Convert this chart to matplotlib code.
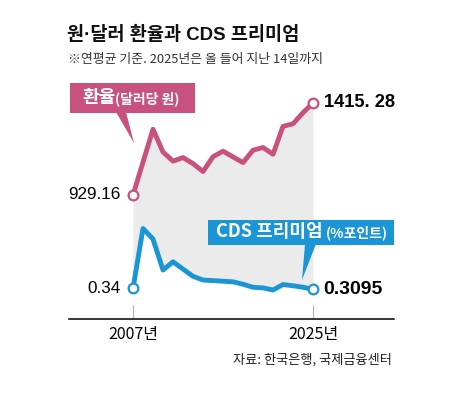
import matplotlib
matplotlib.use("Agg")
import matplotlib.pyplot as plt
from matplotlib import font_manager as fm
from matplotlib.patches import Rectangle, Polygon

years = list(range(2007, 2026))
krw_usd = [929.16, 1102.6, 1276.4, 1156.3, 1108.1, 1126.9, 1095.0, 1053.2, 1131.5,
           1160.5, 1130.5, 1100.3, 1165.7, 1180.1, 1144.4, 1291.9, 1305.4, 1364.0, 1415.28]
cds = [0.34, 2.32, 1.97, 0.95, 1.22, 0.98, 0.74, 0.62, 0.60,
       0.58, 0.56, 0.48, 0.38, 0.36, 0.29, 0.47, 0.43, 0.38, 0.3095]
xticks = [2007, 2025]
xtick_labels = ["2007년", "2025년"]

KR = "Noto Sans CJK KR"
try:
    fm.findfont(fm.FontProperties(family="Liberation Sans Narrow"), fallback_to_default=False)
    NUM = "Liberation Sans Narrow"
    nscale = 1.0
except Exception:
    NUM = "Liberation Sans"
    nscale = 0.82

PINK = "#c8527d"
BLUE = "#1a95d5"
W, H = 461, 400

fig = plt.figure(figsize=(W / 100, H / 100), dpi=100)
fig.patch.set_facecolor("white")


def fx(px):
    return px / W


def fy(py):
    return 1 - py / H


ax = fig.add_axes([fx(69), fy(319), fx(394) - fx(69), fy(80) - fy(319)])
ax2 = ax.twinx()

lo1, hi1 = 273.9, 1536.8
lo2, hi2 = -0.667, 7.22
ax.set_xlim(2000.6, 2033.1)
ax.set_ylim(lo1, hi1)
ax2.set_ylim(lo2, hi2)

# grey band between the two lines, blue mapped onto the won scale
cds_on_won = [lo1 + (c - lo2) / (hi2 - lo2) * (hi1 - lo1) for c in cds]
ax.fill_between(years, krw_usd, cds_on_won, color="#ebebeb", lw=0, zorder=0)

ax.plot(years, krw_usd, color=PINK, lw=3.5, solid_joinstyle="round",
        marker="o", markevery=[0, -1], ms=7, mfc="white", mec=PINK, mew=1.6, zorder=3)
ax2.plot(years, cds, color=BLUE, lw=3.5, solid_joinstyle="round",
         marker="o", markevery=[0, -1], ms=7, mfc="white", mec=BLUE, mew=1.6, zorder=3)

for a in (ax, ax2):
    for s in ("top", "right", "left"):
        a.spines[s].set_visible(False)
    a.set_yticks([])
ax.spines["bottom"].set_linewidth(1.1)
ax.spines["bottom"].set_color("black")
ax2.spines["bottom"].set_visible(False)

ax.set_xticks(xticks)
ax.set_xticklabels(xtick_labels, fontfamily=KR, fontsize=11.5)
ax.tick_params(axis="x", direction="in", length=10, width=0.8, color="#b0b0b0", pad=5)

# end value labels
ax.text(2007 - 1.2, krw_usd[0], f"{krw_usd[0]:.2f}", ha="right", va="center",
        fontfamily=NUM, fontsize=15 * nscale)
ax2.text(2007 - 1.2, cds[0], f"{cds[0]:.2f}", ha="right", va="center",
         fontfamily=NUM, fontsize=15 * nscale)
ax.text(2025 + 1.1, krw_usd[-1], "1415. 28", ha="left", va="center",
        fontfamily=NUM, fontweight="bold", fontsize=16 * nscale)
ax2.text(2025 + 1.0, cds[-1], "0.3095", ha="left", va="center",
         fontfamily=NUM, fontweight="bold", fontsize=17 * nscale)

# label boxes with pointers
def box(x0, y0, x1, y1, color, tri):
    fig.add_artist(Rectangle((fx(x0), fy(y1)), fx(x1) - fx(x0), fy(y0) - fy(y1),
                             transform=fig.transFigure, color=color, lw=0, zorder=5))
    fig.add_artist(Polygon([(fx(px), fy(py)) for px, py in tri], closed=True,
                           transform=fig.transFigure, color=color, lw=0, zorder=5))


box(70, 83, 195, 113, PINK, [(116, 112), (126, 112), (134, 143)])
box(208, 220, 394, 245, BLUE, [(305, 244), (316, 244), (302, 280)])

fig.text(fx(82), fy(98), "환율", ha="left", va="center", color="white",
         fontfamily=KR, fontweight="bold", fontsize=13, zorder=6)
fig.text(fx(115), fy(99), "(달러당 원)", ha="left", va="center", color="white",
         fontfamily=KR, fontweight="bold", fontsize=10, zorder=6)
fig.text(fx(216), fy(232), "CDS 프리미엄", ha="left", va="center", color="white",
         fontfamily=KR, fontweight="bold", fontsize=13, zorder=6)
fig.text(fx(326), fy(233), "(%포인트)", ha="left", va="center", color="white",
         fontfamily=KR, fontweight="bold", fontsize=10, zorder=6)

# titles and source
fig.text(fx(67), fy(35), "원·달러 환율과 CDS 프리미엄", ha="left", va="center",
         family=["Liberation Sans", KR], fontweight="bold", fontsize=13.4, color="#111111")
fig.text(fx(68), fy(60), "※연평균 기준. 2025년은 올 들어 지난 14일까지", ha="left", va="center",
         fontfamily=KR, fontsize=9.3, color="#333333")
fig.text(fx(392), fy(360), "자료: 한국은행, 국제금융센터", ha="right", va="center",
         fontfamily=KR, fontsize=9.5, color="#222222")

fig.savefig("out.png", dpi=100, facecolor="white")
